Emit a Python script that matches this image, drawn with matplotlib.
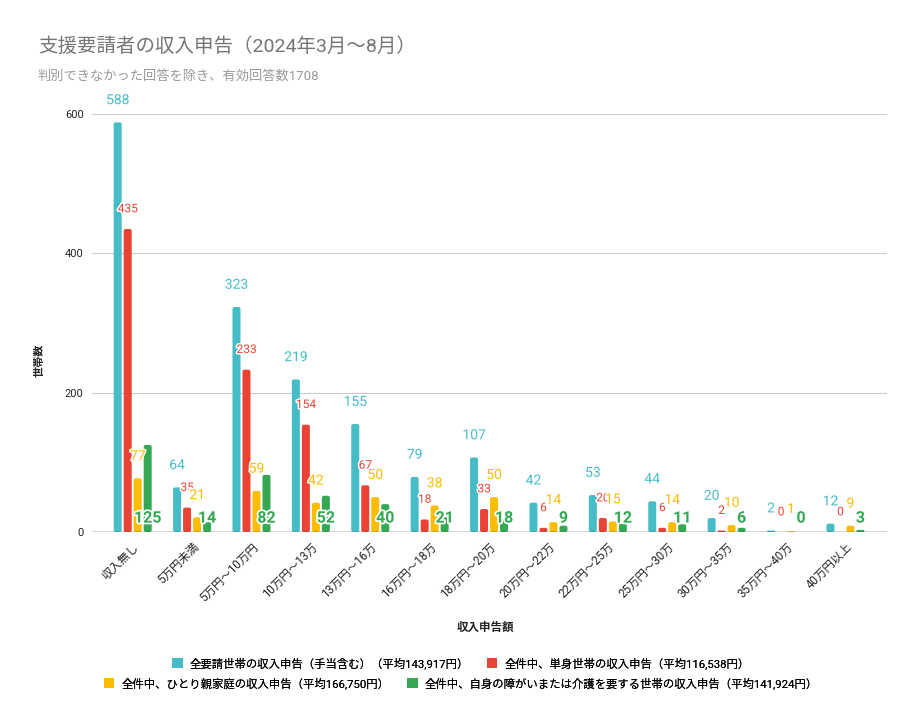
import matplotlib
matplotlib.use("Agg")
import matplotlib.pyplot as plt
from matplotlib.patches import FancyBboxPatch, Patch
import matplotlib.patheffects as pe
import numpy as np

plt.rcParams['font.family'] = ['Roboto', 'Noto Sans CJK JP', 'DejaVu Sans']

categories = ["収入無し", "5万円未満", "5万円～10万円", "10万円～13万", "13万円～16万", "16万円～18万",
              "18万円～20万", "20万円～22万", "22万円～25万", "25万円～30万", "30万円～35万",
              "35万円～40万", "40万円以上"]
series_names = ["全要請世帯の収入申告（手当含む）（平均143,917円）",
                "全件中、単身世帯の収入申告（平均116,538円）",
                "全件中、ひとり親家庭の収入申告（平均166,750円）",
                "全件中、自身の障がいまたは介護を要する世帯の収入申告（平均141,924円）"]
all_households = [588, 64, 323, 219, 155, 79, 107, 42, 53, 44, 20, 2, 12]
single = [435, 35, 233, 154, 67, 18, 33, 6, 20, 6, 2, 0, 0]
single_parent = [77, 21, 59, 42, 50, 38, 50, 14, 15, 14, 10, 1, 9]
disability = [125, 14, 82, 52, 40, 21, 18, 9, 12, 11, 6, 0, 3]
yticks = [0, 200, 400, 600]

colors = ["#46BDC6", "#EA4335", "#FBBC04", "#34A853"]
series = [all_households, single, single_parent, disability]

W, H = 907, 724
fig = plt.figure(figsize=(W / 100, H / 100), dpi=100)
ax_l, ax_r, ax_b, ax_t = 92, 887, 532, 114
ax = fig.add_axes([ax_l / W, 1 - ax_b / H, (ax_r - ax_l) / W, (ax_b - ax_t) / H])

xmin, xmax = -0.685, 12.70
ymin, ymax = 0, 600
ax.set_xlim(xmin, xmax)
ax.set_ylim(ymin, ymax)

xpp = (xmax - xmin) / (ax_r - ax_l)   # data x per pixel
ypp = (ymax - ymin) / (ax_b - ax_t)   # data y per pixel

bw = 8 * xpp
step = 10 * xpp
x = np.arange(len(categories))

label_styles = [
    dict(size=10, weight='normal', dy=16),
    dict(size=8.6, weight='normal', dy=14.5),
    dict(size=10, weight='normal', dy=16),
]

for si, (vals, col) in enumerate(zip(series, colors)):
    off = (si - 1.5) * step
    for xi, v in zip(x, vals):
        cx = xi + off
        if v > 0:
            r = 2 * xpp
            hpx = v / ypp
            if hpx < 5:
                r = min(r, hpx / 2 * xpp)
            p = FancyBboxPatch((cx - bw / 2, 0), bw, v,
                               boxstyle=f"round,pad=0,rounding_size={r}",
                               mutation_aspect=ypp / xpp,
                               facecolor=col, edgecolor='none', zorder=3)
            ax.add_patch(p)
        if si < 3:
            st = label_styles[si]
            ax.annotate(str(v), (cx, v), xytext=(0, st['dy']), textcoords='offset points',
                        ha='center', va='center', fontsize=st['size'], color=col,
                        zorder=5, annotation_clip=False,
                        path_effects=[pe.withStroke(linewidth=2.2, foreground='white')])
        else:
            ax.annotate(str(v), (cx, 0), xytext=(0, 10), textcoords='offset points',
                        ha='center', va='center', fontsize=11.5, color=col, fontweight='bold',
                        zorder=6, annotation_clip=False,
                        path_effects=[pe.withStroke(linewidth=2.5, foreground='white')])

ax.set_yticks(yticks)
ax.set_yticklabels([str(t) for t in yticks], fontsize=8, color='#222222')
ax.grid(axis='y', color='#cccccc', linewidth=0.8, zorder=0)
ax.axhline(0, color='#333333', linewidth=1.0, zorder=4)
for s in ax.spines.values():
    s.set_visible(False)
ax.tick_params(axis='both', length=0)
ax.tick_params(axis='y', pad=6)
ax.set_xticks(x)
ax.set_xticklabels(categories, rotation=45, ha='right', rotation_mode='anchor',
                   fontsize=8.3, color='#222222')
ax.tick_params(axis='x', pad=6)

fig.text(38 / W, 1 - 47 / H, "支援要請者の収入申告（2024年3月～8月）", fontsize=14,
         color='#757575', ha='left', va='center')
fig.text(38 / W, 1 - 76 / H, "判別できなかった回答を除き、有効回答数1708", fontsize=9.5,
         color='#999999', ha='left', va='center')
fig.text(40 / W, 1 - 360 / H, "世帯数", fontsize=8, fontweight='bold', color='#222222',
         rotation=90, ha='center', va='center')
fig.text(485 / W, 1 - 627 / H, "収入申告額", fontsize=8.3, fontweight='bold', color='#222222',
         ha='center', va='center')

handles = [Patch(facecolor=c, edgecolor='none') for c in colors]
for row, yy in ((0, 663), (1, 683)):
    hs = handles[row * 2: row * 2 + 2]
    ls = series_names[row * 2: row * 2 + 2]
    leg = fig.legend(hs, ls, loc='center', bbox_to_anchor=(461 / W, 1 - yy / H), ncol=2,
                     frameon=False, fontsize=8.2, handlelength=0.9, handleheight=0.9,
                     handletextpad=0.6, columnspacing=1.6, borderpad=0, borderaxespad=0)
    fig.add_artist(leg)

fig.savefig("out.png", dpi=100, facecolor='white')
